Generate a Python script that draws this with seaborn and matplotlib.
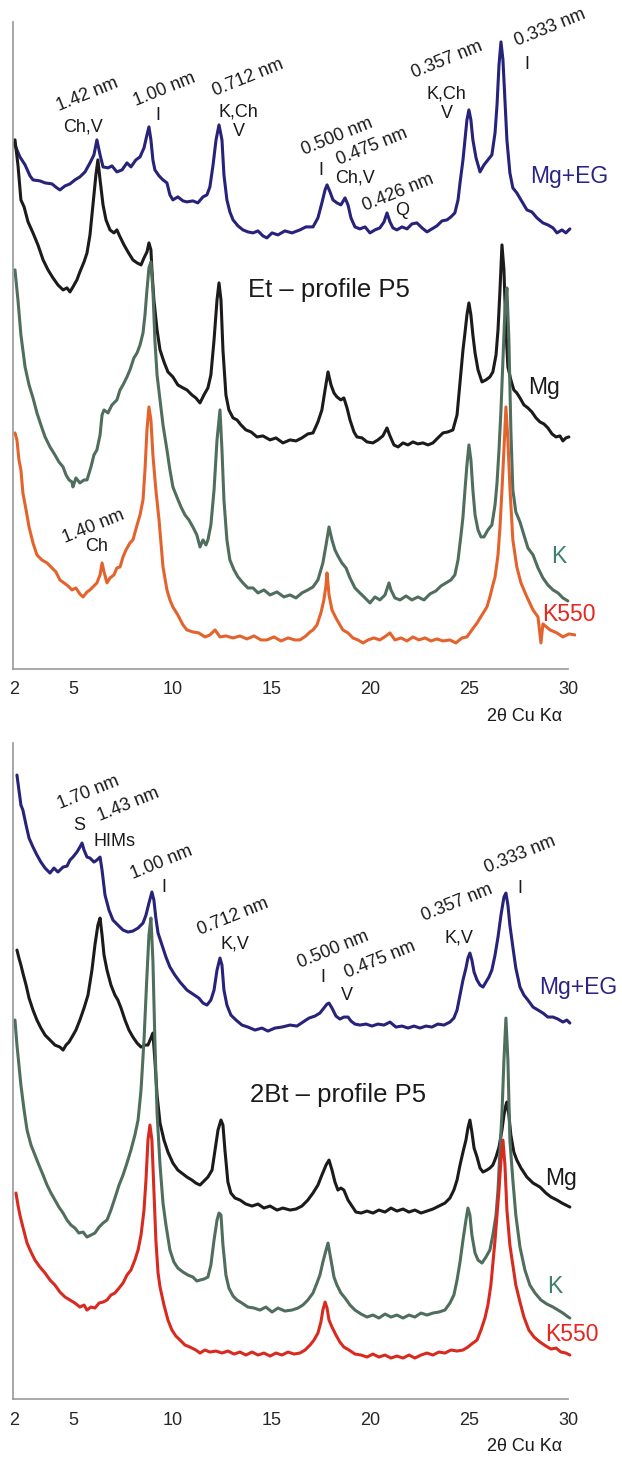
import pandas as pd
import matplotlib
matplotlib.use("Agg")
import matplotlib.pyplot as plt
import seaborn as sns
from matplotlib.ticker import FixedLocator

# ---------------- Et - profile P5 (top) ----------------
et_mgeg_x = [2.00, 2.15, 2.30, 2.56, 2.81, 2.96, 3.31, 3.57, 3.92, 4.17, 4.32, 4.58, 4.83, 5.08, 5.33, 5.59, 5.84, 6.04, 6.19, 6.35,
             6.50, 6.75, 6.95, 7.20, 7.46, 7.71, 7.91, 8.16, 8.37, 8.57, 8.72, 8.82, 8.92, 9.02, 9.12, 9.33, 9.53, 9.73, 9.88, 10.03,
             10.28, 10.54, 10.74, 11.04, 11.29, 11.55, 11.75, 11.90, 12.06, 12.21, 12.36, 12.51, 12.61, 12.76, 12.91, 13.07, 13.32, 13.57, 13.82, 14.08,
             14.33, 14.58, 14.78, 15.04, 15.34, 15.69, 16.05, 16.45, 16.75, 17.11, 17.36, 17.56, 17.72, 17.82, 17.97, 18.12, 18.32, 18.52, 18.73, 18.88,
             19.03, 19.23, 19.48, 19.74, 19.99, 20.24, 20.49, 20.70, 20.85, 21.00, 21.15, 21.35, 21.61, 21.86, 22.11, 22.36, 22.62, 22.87, 23.12, 23.37,
             23.63, 23.88, 24.08, 24.28, 24.44, 24.54, 24.69, 24.79, 24.89, 24.99, 25.09, 25.19, 25.35, 25.55, 25.75, 25.95, 26.15, 26.31, 26.41, 26.51,
             26.61, 26.71, 26.81, 26.91, 27.06, 27.21, 27.41, 27.62, 27.92, 28.17, 28.43, 28.73, 28.98, 29.24, 29.44, 29.69, 29.89, 30.09]
et_mgeg_y = [526, 519, 512, 504, 493, 489, 488, 486, 485, 481, 479, 483, 485, 489, 492, 497, 506, 514, 529, 514,
             502, 501, 503, 497, 499, 506, 502, 509, 512, 521, 534, 542, 529, 509, 499, 493, 489, 486, 474, 469,
             472, 468, 467, 468, 466, 472, 474, 482, 504, 529, 544, 529, 494, 469, 457, 449, 443, 439, 437, 436,
             438, 433, 431, 436, 434, 438, 436, 439, 442, 442, 451, 466, 479, 484, 477, 469, 466, 464, 471, 464,
             451, 442, 440, 442, 436, 439, 441, 447, 456, 447, 441, 439, 442, 440, 445, 446, 441, 437, 440, 443,
             448, 449, 452, 456, 469, 486, 509, 529, 549, 559, 549, 529, 511, 497, 504, 509, 514, 536, 564, 604,
             627, 609, 569, 529, 496, 481, 476, 469, 459, 457, 451, 446, 444, 441, 436, 439, 436, 440]

et_mg_x = [2.05, 2.20, 2.35, 2.51, 2.71, 2.96, 3.21, 3.47, 3.72, 3.97, 4.22, 4.48, 4.68, 4.83, 4.98, 5.18, 5.33, 5.54, 5.69, 5.84,
           5.99, 6.14, 6.24, 6.35, 6.50, 6.65, 6.85, 7.05, 7.20, 7.36, 7.56, 7.76, 8.01, 8.22, 8.42, 8.57, 8.72, 8.82, 8.92, 8.97,
           9.07, 9.23, 9.38, 9.58, 9.78, 10.03, 10.28, 10.54, 10.74, 10.99, 11.19, 11.40, 11.60, 11.80, 11.95, 12.11, 12.26, 12.36, 12.46, 12.56,
           12.71, 12.86, 13.07, 13.27, 13.47, 13.72, 13.98, 14.28, 14.58, 14.94, 15.24, 15.59, 15.95, 16.25, 16.55, 16.85, 17.11, 17.36, 17.56, 17.72,
           17.87, 18.02, 18.17, 18.32, 18.52, 18.67, 18.83, 18.98, 19.18, 19.33, 19.59, 19.84, 20.14, 20.39, 20.64, 20.85, 21.00, 21.20, 21.41, 21.66,
           21.91, 22.16, 22.41, 22.67, 22.92, 23.17, 23.42, 23.68, 23.93, 24.18, 24.39, 24.54, 24.69, 24.79, 24.89, 24.99, 25.09, 25.19, 25.30, 25.45,
           25.65, 25.85, 26.05, 26.20, 26.36, 26.46, 26.56, 26.66, 26.76, 26.86, 26.96, 27.11, 27.26, 27.41, 27.57, 27.77, 27.97, 28.17, 28.38, 28.58,
           28.78, 28.98, 29.19, 29.39, 29.59, 29.74, 29.89, 30.04]
et_mg_y = [529, 504, 469, 462, 447, 436, 424, 409, 399, 391, 384, 379, 381, 377, 382, 389, 397, 407, 416, 434,
           464, 494, 509, 489, 464, 449, 439, 436, 439, 432, 424, 417, 409, 406, 404, 411, 417, 426, 419, 399,
           369, 339, 319, 307, 297, 292, 284, 281, 279, 274, 271, 266, 274, 281, 294, 329, 369, 386, 369, 319,
           274, 259, 251, 249, 244, 239, 237, 232, 233, 229, 231, 226, 229, 228, 231, 235, 236, 247, 259, 279,
           297, 284, 276, 272, 269, 271, 261, 249, 237, 232, 231, 227, 226, 229, 233, 241, 233, 224, 222, 226,
           224, 227, 225, 226, 224, 226, 231, 236, 237, 239, 254, 286, 319, 336, 354, 366, 354, 334, 316, 299,
           287, 289, 292, 297, 314, 339, 379, 424, 399, 339, 302, 289, 279, 276, 271, 264, 261, 257, 251, 247,
           245, 241, 235, 232, 233, 228, 231, 232]

et_k_x = [2.05, 2.20, 2.35, 2.56, 2.76, 2.96, 3.16, 3.36, 3.57, 3.82, 4.07, 4.27, 4.48, 4.63, 4.78, 4.93, 4.98, 5.13, 5.33, 5.54,
          5.69, 5.89, 6.04, 6.19, 6.35, 6.45, 6.55, 6.75, 6.95, 7.20, 7.36, 7.51, 7.71, 7.86, 8.06, 8.22, 8.37, 8.52, 8.62, 8.72,
          8.82, 8.92, 9.02, 9.12, 9.23, 9.38, 9.53, 9.73, 9.88, 10.03, 10.23, 10.44, 10.64, 10.84, 11.04, 11.24, 11.40, 11.55, 11.70, 11.80,
          11.95, 12.11, 12.26, 12.41, 12.51, 12.61, 12.76, 12.91, 13.12, 13.32, 13.57, 13.82, 14.08, 14.33, 14.63, 14.94, 15.29, 15.64, 15.95, 16.25,
          16.55, 16.85, 17.11, 17.36, 17.61, 17.77, 17.92, 18.07, 18.22, 18.37, 18.57, 18.78, 18.98, 19.23, 19.48, 19.74, 19.99, 20.24, 20.49, 20.75,
          20.95, 21.05, 21.25, 21.51, 21.81, 22.11, 22.41, 22.72, 23.02, 23.32, 23.58, 23.83, 24.08, 24.28, 24.44, 24.59, 24.69, 24.79, 24.89, 24.99,
          25.09, 25.19, 25.30, 25.45, 25.60, 25.75, 25.95, 26.15, 26.31, 26.41, 26.51, 26.61, 26.71, 26.81, 26.91, 27.01, 27.11, 27.21, 27.36, 27.57,
          27.77, 27.97, 28.23, 28.48, 28.73, 28.98, 29.24, 29.49, 29.74, 29.99]
et_k_y = [399, 369, 334, 302, 284, 271, 256, 244, 232, 222, 214, 207, 202, 194, 189, 187, 182, 191, 186, 189,
          189, 202, 214, 219, 234, 254, 259, 256, 264, 269, 279, 284, 292, 299, 311, 316, 324, 336, 354, 379,
          401, 407, 379, 329, 294, 269, 244, 219, 199, 182, 172, 162, 154, 149, 142, 134, 122, 129, 124, 129,
          144, 179, 229, 259, 219, 169, 129, 109, 99, 92, 86, 81, 81, 76, 79, 74, 77, 72, 74, 71,
          76, 79, 82, 89, 106, 124, 142, 129, 119, 113, 106, 101, 91, 81, 76, 71, 66, 72, 69, 74,
          86, 79, 71, 69, 73, 69, 72, 69, 75, 78, 83, 86, 89, 94, 109, 134, 152, 179, 204, 224,
          209, 179, 154, 139, 132, 132, 139, 144, 164, 186, 219, 259, 309, 359, 381, 329, 239, 179, 157, 147,
          134, 121, 114, 101, 91, 84, 79, 76, 71, 68]

et_k550_x = [2.05, 2.15, 2.25, 2.35, 2.45, 2.61, 2.76, 2.96, 3.16, 3.41, 3.67, 3.92, 4.12, 4.32, 4.53, 4.73, 4.93, 5.13, 5.33, 5.49,
             5.69, 5.84, 6.04, 6.19, 6.35, 6.45, 6.55, 6.70, 6.85, 7.05, 7.20, 7.36, 7.51, 7.66, 7.86, 8.01, 8.22, 8.37, 8.52, 8.62,
             8.72, 8.82, 8.92, 9.02, 9.17, 9.33, 9.53, 9.73, 9.88, 10.03, 10.28, 10.54, 10.74, 11.04, 11.34, 11.65, 11.90, 12.16, 12.41, 12.71,
             13.07, 13.42, 13.77, 14.13, 14.48, 14.78, 15.14, 15.49, 15.85, 16.20, 16.45, 16.75, 16.96, 17.11, 17.31, 17.51, 17.66, 17.77, 17.82, 17.92,
             18.07, 18.27, 18.47, 18.62, 18.88, 19.13, 19.38, 19.64, 19.89, 20.19, 20.49, 20.80, 21.00, 21.25, 21.56, 21.86, 22.16, 22.46, 22.77, 23.07,
             23.37, 23.68, 24.03, 24.33, 24.64, 24.89, 25.14, 25.40, 25.65, 25.90, 26.05, 26.20, 26.31, 26.46, 26.56, 26.66, 26.76, 26.86, 26.96, 27.06,
             27.21, 27.41, 27.62, 27.92, 28.23, 28.48, 28.63, 28.73, 29.09, 29.44, 29.74, 30.04, 30.35]
et_k550_y = [236, 229, 209, 199, 176, 159, 142, 126, 114, 109, 106, 101, 97, 89, 86, 83, 79, 81, 75, 72,
             77, 79, 83, 86, 94, 106, 97, 86, 91, 94, 101, 102, 112, 119, 126, 129, 144, 154, 169, 199,
             239, 262, 249, 214, 179, 149, 102, 79, 69, 62, 54, 44, 39, 37, 36, 32, 34, 39, 32, 33,
             31, 33, 30, 33, 29, 29, 32, 28, 31, 29, 29, 33, 37, 39, 44, 56, 69, 84, 96, 74,
             59, 51, 44, 39, 36, 31, 29, 26, 29, 31, 29, 33, 36, 29, 31, 28, 32, 29, 31, 28,
             30, 28, 29, 26, 31, 32, 39, 46, 54, 62, 72, 84, 92, 114, 142, 179, 219, 262, 229, 182,
             129, 102, 86, 72, 59, 52, 26, 45, 39, 36, 32, 35, 34]

# ---------------- 2Bt - profile P5 (bottom) ----------------
bt_mgeg_x = [2.15, 2.25, 2.35, 2.45, 2.61, 2.76, 2.96, 3.16, 3.36, 3.57, 3.82, 4.02, 4.22, 4.48, 4.68, 4.83, 4.98, 5.18, 5.33, 5.44,
             5.54, 5.69, 5.84, 6.04, 6.19, 6.35, 6.45, 6.60, 6.80, 7.00, 7.25, 7.51, 7.76, 8.01, 8.27, 8.52, 8.67, 8.82, 8.97, 9.07,
             9.17, 9.28, 9.48, 9.68, 9.88, 10.13, 10.39, 10.74, 11.04, 11.34, 11.55, 11.75, 11.95, 12.11, 12.26, 12.41, 12.51, 12.61, 12.76, 12.96,
             13.22, 13.52, 13.82, 14.18, 14.53, 14.83, 15.19, 15.54, 15.95, 16.30, 16.60, 16.91, 17.21, 17.46, 17.66, 17.82, 17.92, 18.07, 18.27, 18.47,
             18.67, 18.88, 19.03, 19.23, 19.48, 19.79, 20.09, 20.39, 20.70, 21.00, 21.30, 21.61, 21.91, 22.21, 22.52, 22.82, 23.12, 23.42, 23.73, 24.03,
             24.23, 24.39, 24.54, 24.69, 24.84, 24.94, 25.04, 25.14, 25.25, 25.40, 25.55, 25.70, 25.85, 26.00, 26.15, 26.31, 26.46, 26.61, 26.76, 26.86,
             26.96, 27.06, 27.21, 27.36, 27.57, 27.77, 27.97, 28.23, 28.48, 28.73, 28.98, 29.24, 29.49, 29.74, 29.94, 30.09]
bt_mgeg_y = [624, 609, 594, 589, 574, 561, 552, 544, 537, 531, 526, 531, 527, 532, 533, 539, 542, 547, 552, 556,
             549, 542, 541, 537, 539, 542, 529, 504, 489, 479, 474, 469, 467, 468, 471, 476, 484, 496, 507, 499,
             481, 466, 454, 442, 432, 424, 417, 409, 405, 401, 396, 394, 399, 409, 429, 441, 434, 409, 394, 384,
             379, 374, 372, 369, 371, 368, 371, 372, 374, 373, 377, 381, 383, 386, 391, 395, 396, 391, 383, 380,
             382, 382, 378, 375, 374, 375, 373, 375, 374, 377, 372, 373, 371, 373, 371, 373, 372, 375, 374, 377,
             381, 389, 404, 419, 431, 441, 446, 439, 427, 419, 414, 412, 417, 422, 429, 444, 462, 484, 502, 506,
             494, 474, 452, 431, 412, 404, 399, 392, 389, 386, 382, 382, 380, 377, 379, 376]

bt_mg_x = [2.15, 2.25, 2.35, 2.45, 2.61, 2.76, 2.96, 3.16, 3.36, 3.57, 3.82, 4.07, 4.32, 4.48, 4.63, 4.78, 4.93, 5.13, 5.33, 5.54,
           5.74, 5.94, 6.09, 6.24, 6.35, 6.45, 6.55, 6.70, 6.90, 7.10, 7.25, 7.41, 7.61, 7.81, 8.01, 8.22, 8.42, 8.62, 8.77, 8.92,
           9.02, 9.12, 9.23, 9.38, 9.58, 9.78, 10.03, 10.28, 10.54, 10.74, 10.99, 11.19, 11.40, 11.60, 11.80, 12.01, 12.16, 12.31, 12.46, 12.56,
           12.66, 12.81, 12.96, 13.17, 13.42, 13.72, 14.03, 14.33, 14.63, 14.94, 15.29, 15.59, 15.95, 16.25, 16.55, 16.85, 17.11, 17.36, 17.56, 17.77,
           17.92, 18.07, 18.22, 18.37, 18.52, 18.67, 18.88, 19.08, 19.28, 19.54, 19.84, 20.14, 20.44, 20.75, 21.05, 21.35, 21.66, 21.96, 22.26, 22.57,
           22.87, 23.17, 23.47, 23.78, 24.03, 24.23, 24.39, 24.54, 24.69, 24.84, 24.94, 25.04, 25.14, 25.25, 25.40, 25.55, 25.70, 25.90, 26.05, 26.20,
           26.36, 26.51, 26.66, 26.76, 26.86, 26.91, 27.01, 27.11, 27.26, 27.41, 27.62, 27.92, 28.23, 28.58, 28.88, 29.14, 29.44, 29.69, 29.89, 30.09]
bt_mg_y = [449, 441, 434, 426, 414, 401, 389, 379, 371, 364, 359, 354, 352, 349, 354, 357, 362, 369, 379, 391,
           404, 429, 454, 474, 481, 464, 444, 429, 414, 404, 399, 391, 379, 369, 362, 356, 352, 354, 354, 361,
           366, 339, 304, 276, 259, 247, 236, 229, 225, 222, 219, 216, 214, 218, 222, 229, 249, 269, 279, 274,
           249, 217, 206, 201, 199, 195, 193, 195, 191, 193, 189, 191, 189, 190, 193, 199, 206, 214, 224, 234,
           239, 229, 217, 209, 211, 209, 199, 193, 187, 186, 188, 186, 189, 187, 191, 188, 190, 187, 189, 186,
           188, 190, 193, 196, 201, 209, 219, 234, 247, 259, 271, 279, 267, 251, 242, 231, 227, 229, 231, 234,
           242, 252, 269, 284, 294, 297, 284, 264, 247, 239, 231, 222, 216, 212, 206, 202, 199, 196, 194, 192]

bt_k_x = [2.05, 2.15, 2.25, 2.35, 2.51, 2.66, 2.86, 3.06, 3.26, 3.47, 3.67, 3.87, 4.07, 4.27, 4.48, 4.68, 4.88, 5.08, 5.28, 5.49,
          5.69, 5.89, 6.09, 6.30, 6.50, 6.70, 6.90, 7.10, 7.31, 7.51, 7.71, 7.91, 8.11, 8.27, 8.42, 8.57, 8.72, 8.82, 8.92, 9.02,
          9.12, 9.23, 9.38, 9.53, 9.68, 9.88, 10.08, 10.28, 10.54, 10.79, 11.04, 11.24, 11.40, 11.60, 11.80, 11.95, 12.11, 12.26, 12.36, 12.46,
          12.56, 12.71, 12.86, 13.07, 13.27, 13.52, 13.82, 14.13, 14.43, 14.73, 15.04, 15.34, 15.69, 16.05, 16.35, 16.60, 16.85, 17.11, 17.31, 17.46,
          17.61, 17.77, 17.87, 18.02, 18.17, 18.32, 18.52, 18.73, 18.98, 19.23, 19.54, 19.84, 20.14, 20.44, 20.75, 21.05, 21.35, 21.66, 21.96, 22.26,
          22.57, 22.87, 23.17, 23.47, 23.78, 24.03, 24.23, 24.39, 24.54, 24.69, 24.84, 24.94, 25.04, 25.14, 25.30, 25.45, 25.65, 25.85, 26.05, 26.20,
          26.36, 26.46, 26.56, 26.66, 26.76, 26.86, 26.96, 27.06, 27.21, 27.36, 27.57, 27.82, 28.07, 28.33, 28.63, 28.93, 29.24, 29.49, 29.74, 29.94,
          30.09]
bt_k_y = [379, 354, 334, 314, 289, 269, 254, 244, 234, 224, 214, 206, 199, 192, 186, 179, 174, 171, 166, 167,
          162, 164, 166, 172, 176, 179, 189, 201, 214, 224, 236, 249, 264, 279, 309, 359, 424, 464, 481, 439,
          359, 286, 234, 196, 174, 149, 137, 131, 127, 124, 122, 118, 119, 120, 122, 134, 159, 179, 186, 184,
          154, 124, 111, 103, 99, 96, 92, 91, 89, 92, 87, 91, 88, 89, 91, 94, 99, 106, 116, 124,
          137, 149, 156, 139, 122, 114, 106, 101, 94, 89, 85, 82, 84, 81, 85, 82, 84, 81, 84, 82,
          86, 84, 86, 87, 89, 96, 104, 119, 137, 159, 179, 191, 184, 164, 146, 139, 136, 142, 149, 164,
          184, 209, 249, 286, 339, 381, 339, 259, 219, 184, 152, 129, 114, 106, 99, 95, 92, 89, 86, 83,
          81]

bt_k550_x = [2.10, 2.20, 2.30, 2.45, 2.66, 2.86, 3.06, 3.31, 3.57, 3.82, 4.07, 4.32, 4.58, 4.83, 5.08, 5.33, 5.54, 5.69, 5.89, 6.09,
             6.30, 6.50, 6.70, 6.90, 7.10, 7.31, 7.51, 7.71, 7.91, 8.11, 8.27, 8.42, 8.57, 8.67, 8.77, 8.87, 8.97, 9.07, 9.17, 9.28,
             9.38, 9.58, 9.78, 9.98, 10.18, 10.39, 10.64, 10.89, 11.19, 11.40, 11.65, 11.90, 12.21, 12.51, 12.81, 13.12, 13.42, 13.72, 14.03, 14.33,
             14.63, 14.94, 15.24, 15.54, 15.85, 16.15, 16.45, 16.71, 16.96, 17.16, 17.36, 17.51, 17.61, 17.72, 17.82, 17.92, 18.07, 18.27, 18.47, 18.67,
             18.93, 19.23, 19.54, 19.84, 20.14, 20.44, 20.75, 21.05, 21.35, 21.66, 21.96, 22.26, 22.57, 22.87, 23.17, 23.47, 23.78, 24.08, 24.39, 24.69,
             24.94, 25.19, 25.40, 25.60, 25.80, 25.95, 26.10, 26.20, 26.31, 26.41, 26.51, 26.61, 26.71, 26.81, 26.91, 27.06, 27.21, 27.36, 27.57, 27.77,
             28.02, 28.28, 28.58, 28.88, 29.14, 29.39, 29.64, 29.89, 30.09]
bt_k550_y = [206, 194, 184, 172, 156, 147, 139, 132, 126, 119, 114, 107, 102, 99, 96, 92, 94, 89, 92, 91,
             96, 97, 99, 104, 106, 111, 116, 124, 129, 139, 149, 164, 189, 219, 259, 274, 259, 209, 159, 126,
             112, 94, 79, 69, 63, 59, 54, 52, 49, 46, 49, 47, 48, 46, 48, 45, 47, 44, 47, 44,
             46, 43, 46, 44, 47, 45, 46, 49, 54, 59, 66, 77, 89, 97, 91, 79, 72, 64, 57, 52,
             49, 45, 44, 42, 45, 42, 44, 41, 43, 41, 44, 41, 44, 46, 44, 47, 46, 49, 48, 49,
             52, 56, 59, 69, 81, 94, 114, 136, 159, 184, 209, 239, 259, 234, 189, 154, 134, 114, 97, 82,
             69, 62, 57, 53, 50, 51, 47, 46, 44]

treatments = ["Mg+EG", "Mg", "K", "K550"]
et_curves = [(et_mgeg_x, et_mgeg_y), (et_mg_x, et_mg_y), (et_k_x, et_k_y), (et_k550_x, et_k550_y)]
bt_curves = [(bt_mgeg_x, bt_mgeg_y), (bt_mg_x, bt_mg_y), (bt_k_x, bt_k_y), (bt_k550_x, bt_k550_y)]

# peak annotations: d-spacing (rotated) and minerals
et_dspacing = [("1.42 nm", 5.69, 574), ("1.00 nm", 9.63, 579), ("0.712 nm", 13.83, 591),
               ("0.500 nm", 18.32, 532), ("0.475 nm", 20.09, 522), ("0.426 nm", 21.40, 476),
               ("0.357 nm", 23.88, 609), ("0.333 nm", 29.08, 641), ("1.40 nm", 6.00, 142)]
et_minerals = [("Ch,V", 5.49, 542), ("I", 9.28, 553), ("K,Ch", 13.32, 557), ("V", 13.37, 537),
               ("I", 17.51, 498), ("Ch,V", 19.23, 491), ("Q", 21.60, 458), ("K,Ch", 23.83, 575),
               ("V", 23.88, 555), ("I", 27.92, 604), ("Ch", 6.19, 122)]
bt_dspacing = [("1.70 nm", 5.74, 606), ("1.43 nm", 7.76, 594), ("1.00 nm", 9.48, 536),
               ("0.712 nm", 13.07, 482), ("0.500 nm", 18.12, 449), ("0.475 nm", 20.50, 439),
               ("0.357 nm", 24.39, 496), ("0.333 nm", 27.57, 544)]
bt_minerals = [("S", 5.30, 574), ("HIMs", 7.10, 558), ("I", 9.58, 512), ("K,V", 13.17, 455),
               ("I", 17.63, 422), ("V", 18.83, 404), ("K,V", 24.49, 461), ("I", 27.57, 511)]

et_series_labels = [("Mg+EG", 28.07, 492), ("Mg", 27.97, 281), ("K", 29.13, 112), ("K550", 28.68, 54)]
bt_series_labels = [("Mg+EG", 28.53, 412), ("Mg", 28.83, 221), ("K", 28.93, 113), ("K550", 28.83, 65)]

major_ticks = [2, 5, 10, 15, 20, 25, 30]
minor_ticks = [2.5, 7.5, 12.5, 17.5, 22.5, 27.5]

sns.set_style("white")
plt.rcParams["font.family"] = ["Liberation Sans", "DejaVu Sans"]

line_colors_et = {"Mg+EG": "#27227a", "Mg": "#1c1a1a", "K": "#4f6e5e", "K550": "#e4632c"}
line_colors_bt = {"Mg+EG": "#27227a", "Mg": "#1c1a1a", "K": "#4f6e5e", "K550": "#d92a20"}
label_colors = {"Mg+EG": "#2a2585", "Mg": "#1a1a1a", "K": "#3e7f70", "K550": "#e8251e"}

fig = plt.figure(figsize=(6.22, 14.59), dpi=100)
ax_et = fig.add_axes([0.0209, 0.5415, 0.9051, 0.4435])
ax_bt = fig.add_axes([0.0209, 0.0411, 0.9051, 0.4496])


def draw_panel(ax, curves, palette, ymax, dlabels, mlabels, slabels):
    frames = []
    for name, (xs, ys) in zip(treatments, curves):
        frames.append(pd.DataFrame({"two_theta": xs, "intensity": ys, "treatment": name}))
    df = pd.concat(frames, ignore_index=True)
    sns.lineplot(data=df, x="two_theta", y="intensity", hue="treatment", palette=palette,
                 estimator=None, sort=False, lw=2.2, legend=False, ax=ax)
    ax.set_xlim(1.95, 30.4)
    ax.set_ylim(0, ymax)
    ax.set_xlabel("")
    ax.set_ylabel("")
    ax.set_yticks([])
    ax.xaxis.set_major_locator(FixedLocator(major_ticks))
    ax.xaxis.set_minor_locator(FixedLocator(minor_ticks))
    ax.set_xticklabels([str(t) for t in major_ticks])
    for lab in ax.get_xticklabels():
        lab.set_family(["Liberation Sans Narrow", "Liberation Sans"])
        lab.set_fontsize(13)
    ax.tick_params(axis="x", which="major", direction="out", length=7, width=1, color="#999999", pad=2)
    ax.tick_params(axis="x", which="minor", direction="out", length=3.6, width=1, color="#999999")
    for side in ["top", "right"]:
        ax.spines[side].set_visible(False)
    for side in ["left", "bottom"]:
        ax.spines[side].set_color("#999999")
        ax.spines[side].set_linewidth(1.2)
    ax.spines["bottom"].set_bounds(1.95, 30)

    for txt, x, y in dlabels:
        ax.text(x, y, txt, rotation=22, rotation_mode="anchor", ha="center", va="center",
                fontsize=13, color="#1a1a1a")
    for txt, x, y in mlabels:
        ax.text(x, y, txt, ha="center", va="center", fontsize=13, color="#1a1a1a")
    for txt, x, y in slabels:
        ax.text(x, y, txt, ha="left", va="center", fontsize=16.5, color=label_colors[txt])
    ax.text(0.908, -0.073, "2\u03b8 Cu K\u03b1", transform=ax.transAxes, ha="center", va="center",
            fontsize=13, color="#1a1a1a")


draw_panel(ax_et, et_curves, line_colors_et, 647, et_dspacing, et_minerals, et_series_labels)
ax_et.text(13.82, 379, "Et \u2013 profile P5", ha="left", va="center", fontsize=18.5, color="#1a1a1a")

draw_panel(ax_bt, bt_curves, line_colors_bt, 656, bt_dspacing, bt_minerals, bt_series_labels)
ax_bt.text(13.93, 304, "2Bt \u2013 profile P5", ha="left", va="center", fontsize=18.5, color="#1a1a1a")

fig.savefig("out.png", dpi=100, facecolor="white")
